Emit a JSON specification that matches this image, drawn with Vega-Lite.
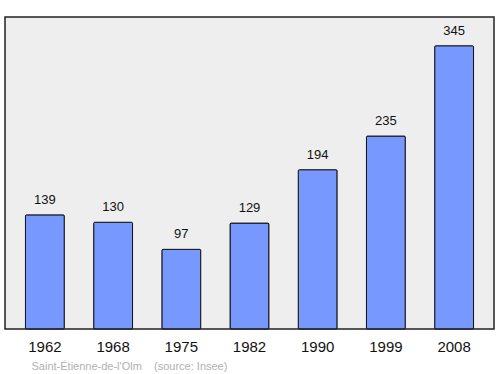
{
  "$schema": "https://vega.github.io/schema/vega-lite/v6.json",
  "width": 489,
  "height": 312,
  "autosize": {"type": "none"},
  "padding": {"left": 5, "top": 17, "right": 6, "bottom": 45},
  "background": "white",
  "view": {"fill": "#eeeeee", "stroke": "#222222", "strokeWidth": 1.5},
  "data": {"values": [
    {"year": "1962", "pop": 139},
    {"year": "1968", "pop": 130},
    {"year": "1975", "pop": 97},
    {"year": "1982", "pop": 129},
    {"year": "1990", "pop": 194},
    {"year": "1999", "pop": 235},
    {"year": "2008", "pop": 345}
  ]},
  "encoding": {
    "x": {
      "field": "year", "type": "nominal", "sort": null,
      "scale": {"paddingInner": 0.43, "paddingOuter": 0.3},
      "axis": {
        "title": "Saint-Étienne-de-l'Olm\u00a0\u00a0\u00a0\u00a0(source: Insee)",
        "titleFont": "Liberation Sans", "titleFontSize": 11, "titleFontWeight": "normal",
        "titleColor": "#b0b0b0", "titleAlign": "left", "titleAnchor": "start",
        "titleX": 26, "titleY": 40, "titleBaseline": "alphabetic",
        "labelAngle": 0, "labelFont": "Liberation Sans", "labelFontSize": 15,
        "labelColor": "#111111", "labelPadding": 10, "ticks": false, "domain": false
      }
    },
    "y": {
      "field": "pop", "type": "quantitative",
      "scale": {"domain": [0, 380], "nice": false},
      "axis": null
    }
  },
  "layer": [
    {"mark": {"type": "bar", "fill": "#7799ff", "stroke": "#111111", "strokeWidth": 1, "cornerRadius": 1}},
    {"mark": {"type": "text", "baseline": "bottom", "dy": -8, "font": "Liberation Sans", "fontSize": 13, "color": "#111111"},
     "encoding": {"text": {"field": "pop", "type": "quantitative"}}}
  ]
}
